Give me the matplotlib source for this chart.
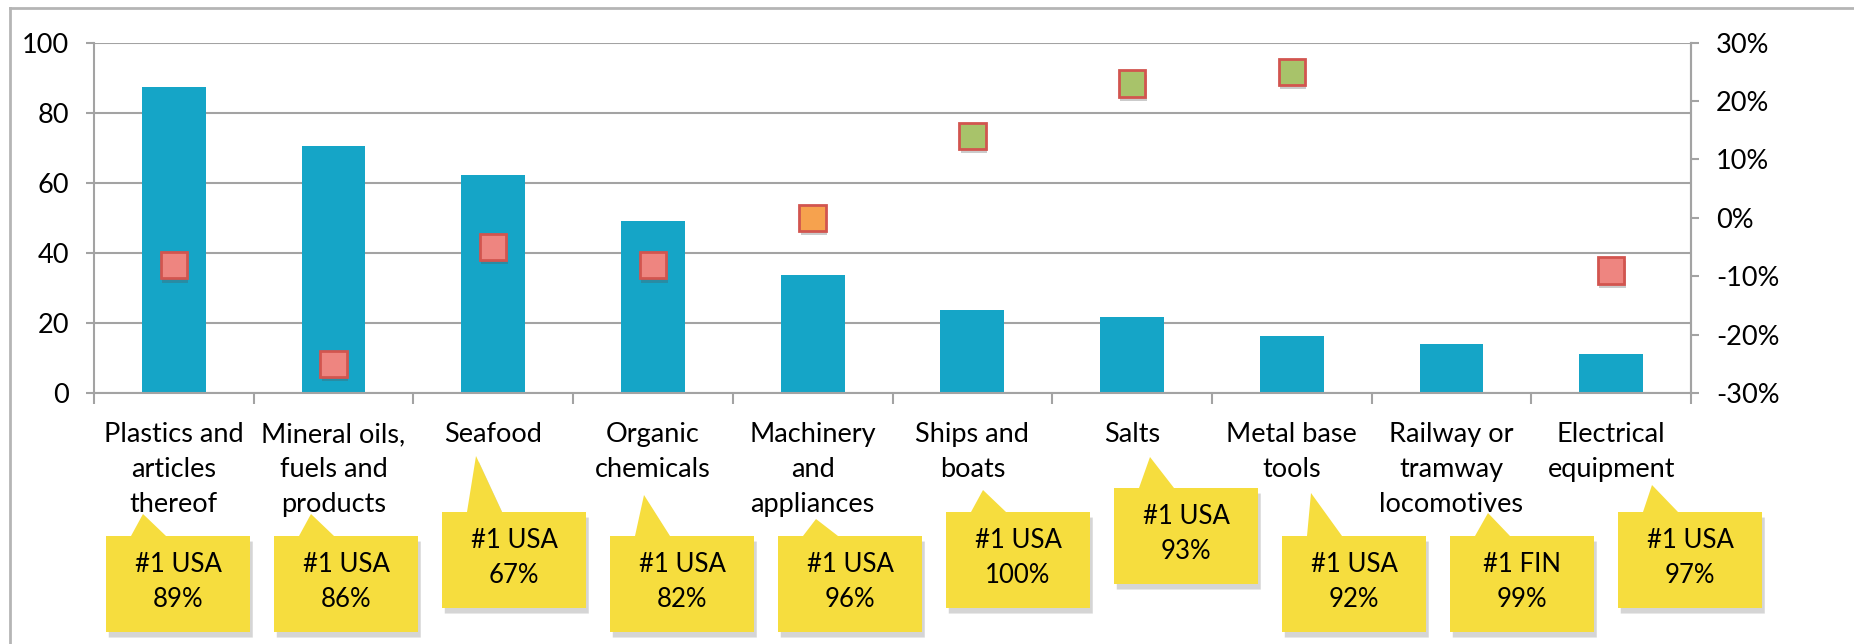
import numpy as np
import matplotlib
matplotlib.use("Agg")
from matplotlib import pyplot as plt
from matplotlib.patches import Polygon
from matplotlib.lines import Line2D
import matplotlib.patheffects as pe

plt.rcParams['font.family'] = ['Lato', 'DejaVu Sans']

categorias = ['Plastics and\narticles\nthereof', 'Mineral oils,\nfuels and\nproducts',
              'Seafood', 'Organic\nchemicals', 'Machinery\nand\nappliances',
              'Ships and\nboats', 'Salts', 'Metal base\ntools',
              'Railway or\ntramway\nlocomotives', 'Electrical\nequipment']
valores_barras = [87.3, 70.5, 62.1, 49.0, 33.6, 23.8, 21.8, 16.4, 14.1, 11.0]
variacion = [-8.1, -25.0, -5.0, -8.1, 0.0, 14.0, 23.0, 25.0, np.nan, -9.0]
socio_principal = ['USA', 'USA', 'USA', 'USA', 'USA', 'USA', 'USA', 'USA', 'FIN', 'USA']
cuota_socio = [89, 86, 67, 82, 96, 100, 93, 92, 99, 97]

# layout of the yellow callouts (pixels from top-left of the figure)
W, H = 1854, 644
caja_izq = [106 + 168 * i for i in range(10)]
caja_top = [536, 536, 512, 536, 536, 512, 488, 536, 536, 512]
punta_dx = [37, 37, 34, 34, 38, 37, 36, 29, 38, 34]
punta_y = [514, 514, 456, 495, 519, 490, 457, 493, 513, 485]

AZUL = '#15A5C7'
GRIS = '#A3A3A3'
AMARILLO = '#F6DD3E'

fig = plt.figure(figsize=(W / 100, H / 100), dpi=100)
ax = fig.add_axes([94 / W, 1 - 393 / H, (1691 - 94) / W, (393 - 42.7) / H])

x = np.arange(len(categorias))
ax.bar(x, valores_barras, width=0.4, color=AZUL, zorder=2)
ax.set_xlim(-0.5, len(categorias) - 0.5)
ax.set_ylim(0, 100)
ax.set_yticks(range(0, 101, 20))
ax.grid(axis='y', color=GRIS, linewidth=1.5, zorder=0)
ax.set_axisbelow(True)

ax.set_xticks(np.arange(-0.5, len(categorias), 1))
ax.set_xticklabels([])
ax.set_xticks(x, minor=True)
ax.set_xticklabels(categorias, minor=True, fontsize=19.5, linespacing=1.5)
ax.tick_params(axis='x', which='major', length=8, width=1.5, color=GRIS)
ax.tick_params(axis='x', which='minor', length=0, pad=21)
ax.tick_params(axis='y', length=6, width=1.5, color=GRIS, labelsize=19.5, pad=12)

ax.spines['top'].set_visible(False)
for lado in ['left', 'bottom', 'right']:
    ax.spines[lado].set_color(GRIS)
    ax.spines[lado].set_linewidth(1.5)

ax2 = ax.twinx()
ax2.set_ylim(-30, 30)
ax2.set_yticks(range(-30, 31, 10))
ax2.set_yticklabels([f'{v}%' for v in range(-30, 31, 10)])
ax2.tick_params(axis='y', length=6, width=1.5, color=GRIS, labelsize=19.5, pad=12)
for lado in ['top', 'left', 'bottom']:
    ax2.spines[lado].set_visible(False)
ax2.spines['right'].set_color(GRIS)
ax2.spines['right'].set_linewidth(1.5)

sombra = [pe.SimplePatchShadow(offset=(1, -3), shadow_rgbFace='#555555', alpha=0.3), pe.Normal()]
for xi, v in zip(x, variacion):
    if np.isnan(v):
        continue
    if v > 1:
        cara = '#A8C36A'
    elif v < -1:
        cara = '#EE8580'
    else:
        cara = '#F6A24E'
    ax2.plot(xi, v, marker='s', markersize=19, markerfacecolor=cara,
             markeredgecolor='#D2554F', markeredgewidth=2, linestyle='none',
             path_effects=sombra, zorder=3)

# callouts
def fpx(px, py):
    return (px / W, 1 - py / H)

sombra_caja = [pe.SimplePatchShadow(offset=(2, -4), shadow_rgbFace='#777777', alpha=0.3), pe.Normal()]
for i in range(len(categorias)):
    x0 = caja_izq[i]
    x1 = x0 + 144
    y0 = caja_top[i]
    y1 = y0 + 96
    pts = [fpx(x0, y0), fpx(x0 + 25, y0), fpx(x0 + punta_dx[i], punta_y[i]),
           fpx(x0 + 60, y0), fpx(x1, y0), fpx(x1, y1), fpx(x0, y1)]
    caja = Polygon(pts, closed=True, facecolor=AMARILLO, edgecolor='none',
                   transform=fig.transFigure, path_effects=sombra_caja)
    fig.patches.append(caja)
    cx, cy = fpx(x0 + 72, y0 + 46)
    fig.text(cx, cy, f'#1 {socio_principal[i]}\n{cuota_socio[i]}%', ha='center', va='center',
             fontsize=18.5, linespacing=1.5)

# outer frame
fig.add_artist(Line2D([10 / W, 1], [1 - 8 / H, 1 - 8 / H], color='#B5B5B5', linewidth=2,
                      transform=fig.transFigure))
fig.add_artist(Line2D([10 / W, 10 / W], [1 - 8 / H, 0], color='#B5B5B5', linewidth=2,
                      transform=fig.transFigure))

fig.savefig('out.png', dpi=100, facecolor='white')
